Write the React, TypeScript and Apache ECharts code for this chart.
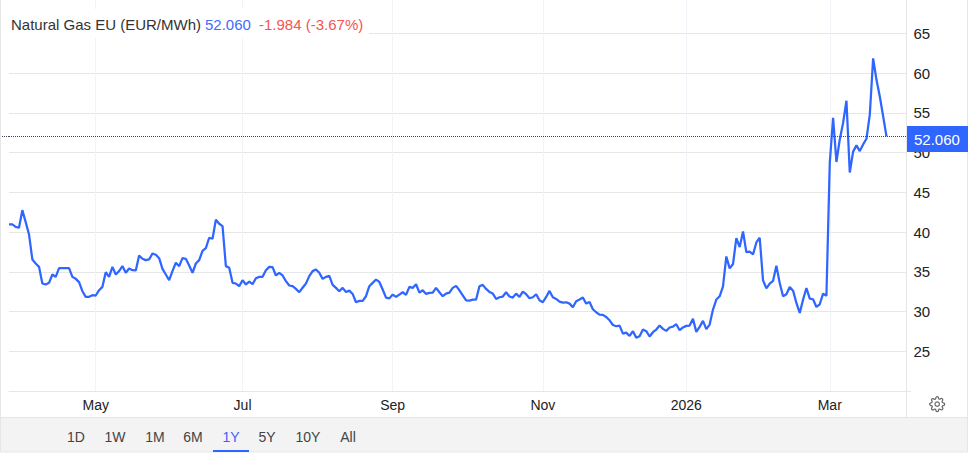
import React, { useEffect, useRef } from "react";
import * as echarts from "echarts";

const FONT = "Arial, 'Liberation Sans', sans-serif";
const BLUE = "#2f66ff";

const valuesApr = [40.97,40.97,40.67,40.55,42.77,41.26,39.71,36.56,36.05,35.63,33.53,33.41,33.62,34.67,34.37,35.46,35.46,35.46,35.46,34.37,34.12,33.7,32.56,31.85,31.85,32.06,32.02,32.69,33.11,34.96,34.37,35.63,34.67,35.09,35.72,34.88,35.42,35.21,35.17,37.06,36.64,36.47,36.56,37.31,37.15,36.72,35.38,34.67,33.95,35.09,36.14,35.72,36.72,36.64,35.8,34.88,36.05,36.47,37.65,37.99,39.29,39.16,41.56,41.05,40.76,35.72,35.51,33.62,33.53,33.2,33.95,33.41,33.78,33.45,34.2,34.37,34.37,35.21,35.63,35.59,34.54,34.88,34.54,33.83,33.28,33.2,32.86,32.44,33.0,33.53,34.46,35.09,35.3,34.88];
const valuesAug = [34.11,34.37,34.49,33.36,32.98,32.56,32.98,32.47,32.64,32.22,31.17,31.34,31.34,31.93,33.19,33.61,34.03,33.73,32.77,31.76,31.66,32.14,31.84,32.14,32.43,32.1,33.1,32.98,33.44,32.39,32.68,32.22,32.35,32.39,32.98,32.43,31.93,32.26,32.39,32.98,33.23,32.68,32.05,31.42,31.38,31.51,31.51,33.19,33.36,32.85,32.47,32.26,31.59,31.8,31.89,32.43,31.89,31.76,32.26,31.84,32.52,32.18,31.68,31.8,32.18,31.42,31.17,31.84,32.6,31.8,31.59,31.26,31.13,31.17,31.0,30.54,31.3,31.51,31.76,31.0,31.21,30.29,29.91,29.62,29.58,29.32,28.9,28.31,28.15,28.23,27.22,27.35,26.93,27.52,26.72,26.89];
const valuesDec = [27.74,27.53,26.86,27.4,27.74,28.24,27.82,27.57,27.99,28.11,28.41,27.65,28.0,28.2,28.24,29.08,27.44,28.07,28.83,27.78,28.36,30.25,31.51];
const valuesJan = [31.92,33.18,36.94,35.44,35.98,39.24,38.11,40.08,37.49,37.53,37.19,38.7,39.29,33.93,32.93,33.51,33.85,35.77,33.59,31.92,32.17,33.09,32.63,31.08,29.83,31.5,32.97,31.63,31.55,30.58,30.92,32.26,32.0];
const valuesMar = [48.7,54.38,48.83,51.67,53.75,56.54,47.5,50.13,50.92,50.2,51.04,51.75,54.8,61.88,59.17,57.08,54.58,52.06];
const lastPrice = 52.06;
const series = [...valuesApr, ...valuesAug, ...valuesDec, ...valuesJan, ...valuesMar];

const pointCount = 270;
const categories = Array.from({ length: pointCount }, (_, i) => String(i));
const monthLabels: Record<string, string> = { "26": "May", "70": "Jul", "115": "Sep", "160": "Nov", "203": "2026", "246": "Mar" };
const rangeTabs: [string, number][] = [["1D", 76], ["1W", 115], ["1M", 155], ["6M", 193], ["1Y", 231], ["5Y", 267], ["10Y", 308], ["All", 348]];

const GEAR = "M19.4 15a1.65 1.65 0 0 0 .33 1.82l.06.06a2 2 0 0 1 0 2.83 2 2 0 0 1-2.83 0l-.06-.06a1.65 1.65 0 0 0-1.82-.33 1.65 1.65 0 0 0-1 1.51V21a2 2 0 0 1-2 2 2 2 0 0 1-2-2v-.09A1.65 1.65 0 0 0 9 19.4a1.65 1.65 0 0 0-1.82.33l-.06.06a2 2 0 0 1-2.83 0 2 2 0 0 1 0-2.83l.06-.06a1.65 1.65 0 0 0 .33-1.82 1.65 1.65 0 0 0-1.51-1H3a2 2 0 0 1-2-2 2 2 0 0 1 2-2h.09A1.65 1.65 0 0 0 4.6 9a1.65 1.65 0 0 0-.33-1.82l-.06-.06a2 2 0 0 1 0-2.83 2 2 0 0 1 2.83 0l.06.06a1.65 1.65 0 0 0 1.82.33H9a1.65 1.65 0 0 0 1-1.51V3a2 2 0 0 1 2-2 2 2 0 0 1 2 2v.09a1.65 1.65 0 0 0 1 1.51 1.65 1.65 0 0 0 1.82-.33l.06-.06a2 2 0 0 1 2.83 0 2 2 0 0 1 0 2.83l-.06.06a1.65 1.65 0 0 0-.33 1.82V9a1.65 1.65 0 0 0 1.51 1H21a2 2 0 0 1 2 2 2 2 0 0 1-2 2h-.09a1.65 1.65 0 0 0-1.51 1z";
echarts.graphic.registerShape("gear", echarts.graphic.extendPath(GEAR, {}) as any);

export default function App() {
  const ref = useRef<HTMLDivElement>(null);
  useEffect(() => {
    const chart = echarts.init(ref.current!, undefined, { renderer: "svg" });
    const isTick = (i: number) => String(i) in monthLabels;
    const edge = "#e6e6e6";
    chart.setOption({
      animation: false,
      backgroundColor: "#fff",
      grid: { left: 9, right: 62.5, top: 0, bottom: 63 },
      xAxis: {
        type: "category",
        data: categories,
        boundaryGap: false,
        axisLine: { show: true, lineStyle: { color: edge, width: 1 } },
        axisTick: { show: false },
        axisLabel: {
          interval: (i: number) => isTick(i),
          formatter: (v: string) => monthLabels[v] ?? "",
          color: "#222",
          fontFamily: FONT,
          fontSize: 14,
          margin: 7,
        },
        splitLine: { show: true, interval: (i: number) => isTick(i), lineStyle: { color: "#f0f3f8", width: 1 } },
      },
      yAxis: {
        type: "value",
        position: "right",
        min: 20,
        max: 69.22,
        interval: 5,
        axisLine: { show: true, lineStyle: { color: edge, width: 1 } },
        axisTick: { show: false },
        axisLabel: { color: "#222", fontFamily: FONT, fontSize: 15, margin: 7, showMinLabel: false, showMaxLabel: false },
        splitLine: { show: true, showMaxLine: false, lineStyle: { color: edge, width: 1 } },
      },
      series: [
        {
          type: "line",
          data: series,
          showSymbol: false,
          symbol: "none",
          lineStyle: { color: BLUE, width: 2.25 },
          z: 3,
          markLine: {
            silent: true,
            symbol: "none",
            label: { show: false },
            lineStyle: { color: "#445", width: 1, type: [1, 1] },
            data: [{ yAxis: lastPrice }],
          },
        },
      ],
      graphic: [
        { type: "rect", z: 10, shape: { x: 9, y: 9, width: 360, height: 29 }, style: { fill: "#fff" } },
        { type: "text", z: 11, x: 11, y: 24, style: { text: "Natural Gas EU (EUR/MWh)", fill: "#333", font: `15px ${FONT}`, verticalAlign: "middle" } },
        { type: "text", z: 11, x: 205, y: 24, style: { text: "52.060", fill: "#3f6bff", font: `15px ${FONT}`, verticalAlign: "middle" } },
        { type: "text", z: 11, x: 259, y: 24, style: { text: "-1.984 (-3.67%)", fill: "#f5544f", font: `15px ${FONT}`, verticalAlign: "middle" } },
        { type: "line", z: 1, shape: { x1: 0, y1: 136.5, x2: 9, y2: 136.5 }, style: { stroke: "#445", lineWidth: 1, lineDash: [1, 1] } },
        { type: "rect", z: 12, shape: { x: 907, y: 126, width: 61, height: 26 }, style: { fill: BLUE } },
        { type: "text", z: 13, x: 914, y: 139.5, style: { text: "52.060", fill: "#fff", font: `15px ${FONT}`, verticalAlign: "middle" } },
        { type: "line", z: 1, shape: { x1: 906.5, y1: 391, x2: 906.5, y2: 417 }, style: { stroke: edge, lineWidth: 1 } },
        { type: "line", z: 1, shape: { x1: 906, y1: 391.5, x2: 911, y2: 391.5 }, style: { stroke: edge, lineWidth: 1 } },
        { type: "rect", z: 1, shape: { x: 0.5, y: 417.5, width: 967, height: 34.5 }, style: { fill: "#f3f3f3", stroke: edge, lineWidth: 1 } },
        { type: "line", z: 1, shape: { x1: 0.5, y1: 0, x2: 0.5, y2: 418 }, style: { stroke: edge, lineWidth: 1 } },
        { type: "line", z: 1, shape: { x1: 967.5, y1: 0, x2: 967.5, y2: 418 }, style: { stroke: edge, lineWidth: 1 } },
        { type: "rect", z: 2, shape: { x: 213, y: 450, width: 36, height: 2 }, style: { fill: BLUE } },
        ...rangeTabs.map(([label, cx]) => ({
          type: "text",
          z: 3,
          x: cx,
          y: 437,
          style: { text: label, fill: label === "1Y" ? "#4a5cff" : "#444", font: `14px ${FONT}`, align: "center", verticalAlign: "middle" },
        })),
        { type: "gear", z: 3, x: 929, y: 396, scaleX: 0.68, scaleY: 0.68, style: { fill: "none", stroke: "#666", lineWidth: 1.8 } },
        { type: "circle", z: 3, shape: { cx: 937.2, cy: 404.2, r: 2.2 }, style: { fill: "none", stroke: "#666", lineWidth: 1.2 } },
      ],
    });
    return () => chart.dispose();
  }, []);
  return <div ref={ref} style={{ position: "fixed", left: 0, top: 0, width: 969, height: 454 }} />;
}
